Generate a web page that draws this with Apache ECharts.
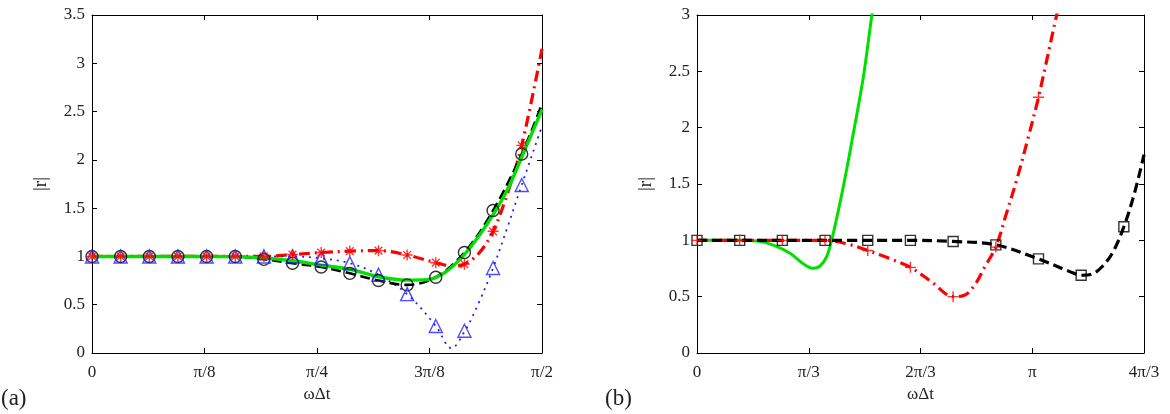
<!DOCTYPE html>
<html>
<head>
<meta charset="utf-8">
<script src="https://cdn.jsdelivr.net/npm/echarts@6/dist/echarts.min.js"></script>
<style>
  html, body { margin: 0; padding: 0; background: #fff; }
  #chart { width: 1170px; height: 414px; }
</style>
</head>
<body>
<div id="chart"></div>
<script>
// ---- panel (a) ----
const aTickLabels = ['0', 'π/8', 'π/4', '3π/8', 'π/2'];
const aMarkX = [0, 0.1, 0.2, 0.3, 0.4, 0.5, 0.6, 0.7, 0.8, 0.9, 1.0, 1.1, 1.2, 1.3, 1.4, 1.5];
const aCircleY = [1, 1, 1, 1, 1, 1, 0.97, 0.93, 0.89, 0.825, 0.75, 0.705, 0.785, 1.04, 1.475, 2.06];
const aStarY = [1, 1, 1, 1, 1, 1, 1, 1.02, 1.04, 1.055, 1.06, 1.015, 0.935, 0.92, 1.26, 2.15];
const aTriY = [1, 1, 1, 1, 1, 1, 1, 1, 0.98, 0.93, 0.81, 0.61, 0.28, 0.23, 0.88, 1.74];

const aGreen = [[0, 1], [0.4, 1], [0.5, 0.998], [0.6, 0.985], [0.7, 0.955], [0.8, 0.91], [0.9, 0.867],
  [1.0, 0.79], [1.1, 0.755], [1.17, 0.76], [1.23, 0.83], [1.3, 1.02], [1.38, 1.34], [1.45, 1.69],
  [1.5, 2.03], [1.5708, 2.52]];
const aBlack = [[0, 1], [0.5, 1], [0.6, 0.97], [0.7, 0.93], [0.8, 0.89], [0.9, 0.825], [1.0, 0.75],
  [1.1, 0.705], [1.2, 0.785], [1.3, 1.04], [1.4, 1.475], [1.5, 2.06], [1.5708, 2.58]];
const aRed = [[0, 1], [0.6, 1], [0.7, 1.02], [0.8, 1.04], [0.9, 1.055], [1.0, 1.06], [1.1, 1.015],
  [1.2, 0.935], [1.26, 0.9], [1.3, 0.92], [1.35, 1.03], [1.4, 1.26], [1.45, 1.65], [1.5, 2.15], [1.5708, 3.15]];
const aBlue = [[0, 1], [0.7, 1], [0.8, 0.98], [0.9, 0.93], [1.0, 0.81], [1.1, 0.61], [1.2, 0.28],
  [1.255, 0.05], [1.3, 0.22], [1.35, 0.52], [1.4, 0.88], [1.45, 1.3], [1.5, 1.74], [1.5708, 2.35]];

// ---- panel (b) ----
const bTickLabels = ['0', 'π/3', '2π/3', 'π', '4π/3'];
const bMarkX = [0, 0.4, 0.8, 1.2, 1.6, 2.0, 2.4, 2.8, 3.2, 3.6, 4.0];
const bSquareY = [1, 1, 1, 1, 1, 1, 0.99, 0.96, 0.835, 0.69, 1.12];
const bPlusX = [0, 0.4, 0.8, 1.2, 1.6, 2.0, 2.4, 2.8, 3.2];
const bPlusY = [1, 1, 1, 1, 0.91, 0.76, 0.5, 0.94, 2.27];

const bGreen = [[0, 1], [0.4, 1], [0.56, 0.995], [0.715, 0.958], [0.872, 0.885], [1.0, 0.79],
  [1.09, 0.752], [1.15, 0.77], [1.215, 0.855], [1.277, 1.062], [1.371, 1.476], [1.465, 1.95],
  [1.559, 2.45], [1.637, 2.985], [1.66, 3.1]];
const bRed = [[0, 1], [1.2, 1], [1.4, 0.97], [1.6, 0.91], [1.8, 0.84], [2.0, 0.76], [2.2, 0.63],
  [2.4, 0.5], [2.5, 0.51], [2.6, 0.6], [2.7, 0.77], [2.8, 0.94], [2.9, 1.24], [3.0, 1.55],
  [3.1, 1.9], [3.2, 2.27], [3.37, 3.0], [3.42, 3.2]];
const bBlack = [[0, 1], [2.0, 1], [2.4, 0.99], [2.8, 0.96], [3.2, 0.835], [3.5, 0.72], [3.6, 0.69],
  [3.7, 0.7], [3.8, 0.77], [3.9, 0.9], [4.0, 1.12], [4.1, 1.42], [4.189, 1.76]];

const FONT = "'Liberation Serif', 'Times New Roman', serif";
const GREEN = '#00e000';
const RED = '#ff0000';
const BLUE = '#2020ff';

const STAR = 'path://M0,-10L0,10M-10,0L10,0M-7,-7L7,7M-7,7L7,-7';
const PLUS = 'path://M0,-10L0,10M-10,0L10,0';

const chart = echarts.init(document.getElementById('chart'));

const zip = (xs, ys) => xs.map((x, i) => [x, ys[i]]);

function xAxes(grid, max, step, labels, name) {
  const base = {
    gridIndex: grid, type: 'value', min: 0, max: max, interval: step,
    axisLine: { show: true, onZero: false, lineStyle: { color: '#000', width: 1 } },
    axisTick: { show: true, inside: true, length: 5, lineStyle: { color: '#000' } },
    splitLine: { show: false }
  };
  return [
    Object.assign({}, base, {
      position: 'bottom',
      name: name, nameLocation: 'middle', nameGap: 29,
      nameTextStyle: { fontFamily: FONT, fontSize: 17, color: '#222' },
      axisLabel: {
        fontFamily: FONT, fontSize: 17, color: '#222', margin: 11,
        formatter: (v) => labels[Math.round(v / step)]
      }
    }),
    Object.assign({}, base, { position: 'top', axisLabel: { show: false } })
  ];
}

function yAxes(grid, max, gap) {
  const base = {
    gridIndex: grid, type: 'value', min: 0, max: max, interval: 0.5,
    axisLine: { show: true, onZero: false, lineStyle: { color: '#000', width: 1 } },
    axisTick: { show: true, inside: true, length: 5, lineStyle: { color: '#000' } },
    splitLine: { show: false }
  };
  return [
    Object.assign({}, base, {
      position: 'left',
      name: '|r|', nameLocation: 'middle', nameGap: gap, nameRotate: 90,
      nameTextStyle: { fontFamily: FONT, fontSize: 19, color: '#222' },
      axisLabel: { fontFamily: FONT, fontSize: 17, color: '#222', margin: 7 }
    }),
    Object.assign({}, base, { position: 'right', axisLabel: { show: false } })
  ];
}

function curve(xi, yi, data, color, width, type) {
  return {
    type: 'line', xAxisIndex: xi, yAxisIndex: yi, data: data,
    smooth: 0.35, showSymbol: false, clip: true, silent: true,
    lineStyle: { color: color, width: width, type: type }
  };
}

function marks(xi, yi, data, symbol, size, color) {
  return {
    type: 'scatter', xAxisIndex: xi, yAxisIndex: yi, data: data,
    symbol: symbol, symbolSize: size, silent: true, z: 5,
    itemStyle: { color: 'rgba(0,0,0,0)', borderColor: color, borderWidth: 1.4 }
  };
}

const option = {
  animation: false,
  backgroundColor: '#fff',
  grid: [
    { left: 92, top: 15, width: 450, height: 338 },
    { left: 697, top: 15, width: 447, height: 338 }
  ],
  xAxis: [
    ...xAxes(0, Math.PI / 2, Math.PI / 8, aTickLabels, 'ωΔt'),
    ...xAxes(1, 4 * Math.PI / 3, Math.PI / 3, bTickLabels, 'ωΔt')
  ],
  yAxis: [
    ...yAxes(0, 3.5, 41),
    ...yAxes(1, 3, 41)
  ],
  series: [
    // panel (a)
    curve(0, 0, aRed, RED, 3.2, [11, 5, 2, 5]),
    curve(0, 0, aBlue, BLUE, 1.8, [2, 5]),
    curve(0, 0, aBlack, '#000', 2.6, [10, 5]),
    curve(0, 0, aGreen, GREEN, 3.4, 'solid'),
    marks(0, 0, zip(aMarkX, aCircleY), 'circle', 12, '#000'),
    marks(0, 0, zip(aMarkX, aTriY), 'triangle', 13, BLUE),
    marks(0, 0, zip(aMarkX, aStarY), STAR, 11, RED),
    // panel (b)
    curve(2, 2, bGreen, GREEN, 3, 'solid'),
    curve(2, 2, bRed, RED, 3.2, [11, 5, 2, 5]),
    curve(2, 2, bBlack, '#000', 3.2, [10, 5]),
    marks(2, 2, zip(bMarkX, bSquareY), 'rect', 10, '#000'),
    marks(2, 2, zip(bPlusX, bPlusY), PLUS, 11, RED)
  ],
  graphic: [
    { type: 'text', left: 1, top: 387, style: { text: '(a)', font: "23px 'Liberation Serif', serif", fill: '#222' } },
    { type: 'text', left: 605, top: 387, style: { text: '(b)', font: "23px 'Liberation Serif', serif", fill: '#222' } }
  ]
};

chart.setOption(option);
</script>
</body>
</html>
